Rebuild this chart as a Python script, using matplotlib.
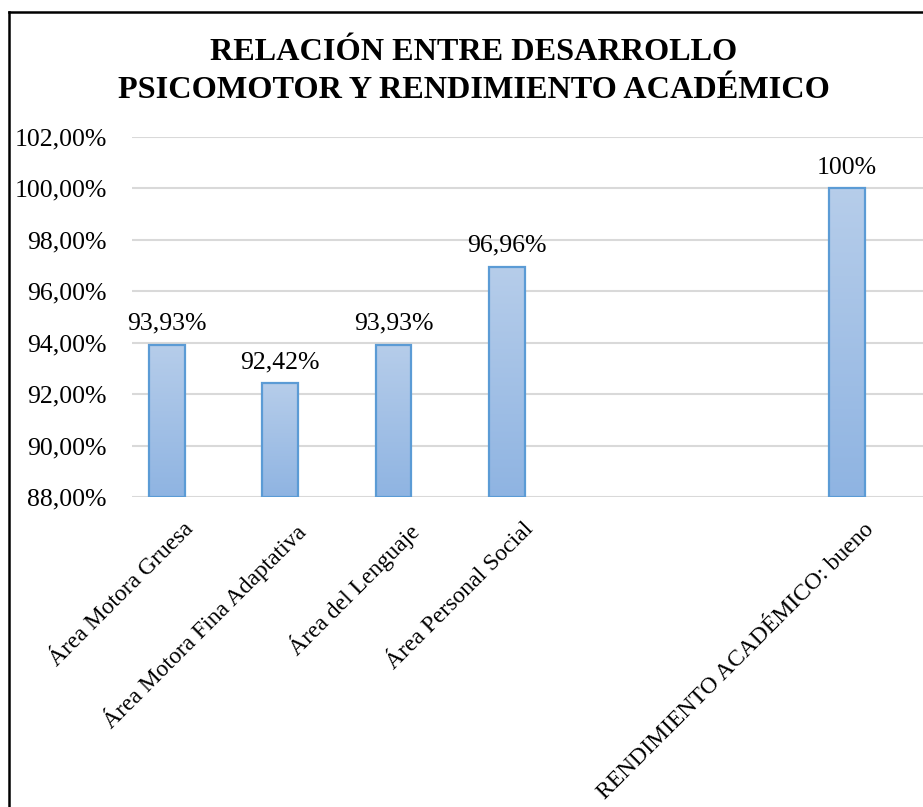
import numpy as np
import matplotlib
matplotlib.use("Agg")
import matplotlib.pyplot as plt
import matplotlib.transforms as mtransforms
from matplotlib.colors import LinearSegmentedColormap
from matplotlib.lines import Line2D

plt.rcParams['font.family'] = ['Liberation Serif', 'DejaVu Serif']

# data (two empty slots between the areas and the result)
categories = ["Área Motora Gruesa", "Área Motora Fina Adaptativa", "Área del Lenguaje",
              "Área Personal Social", "", "", "RENDIMIENTO ACADÉMICO: bueno"]
values = [93.93, 92.42, 93.93, 96.96, np.nan, np.nan, 100.0]
value_labels = ["93,93%", "92,42%", "93,93%", "96,96%", "", "", "100%"]
yticks = [88, 90, 92, 94, 96, 98, 100, 102]
ytick_labels = ["88,00%", "90,00%", "92,00%", "94,00%", "96,00%", "98,00%", "100,00%", "102,00%"]

title = "RELACIÓN ENTRE DESARROLLO\nPSICOMOTOR Y RENDIMIENTO ACADÉMICO"

W, H = 923, 807
fig = plt.figure(figsize=(W / 100, H / 100), dpi=100)
ax = fig.add_axes([132 / W, 1 - 497 / H, 1 - 132 / W, (497 - 137) / H])

x = np.arange(len(categories))
bar_w = 0.315
ymin, ymax = 88, 102

grad = LinearSegmentedColormap.from_list("g", ["#8fb4e2", "#b6cdea"])
bars = ax.bar(x, np.array(values) - ymin, bottom=ymin, width=bar_w,
              facecolor="none", edgecolor="#5b9bd5", linewidth=1.6, zorder=3)
for b in bars:
    h = b.get_height()
    if np.isnan(h):
        continue
    x0 = b.get_x()
    img = ax.imshow(np.linspace(0, 1, 100).reshape(-1, 1), cmap=grad, origin="lower",
                    extent=[x0, x0 + b.get_width(), ymin, ymin + h],
                    aspect="auto", zorder=2, interpolation="bilinear")
    img.set_clip_path(b)

for xi, v, lab in zip(x, values, value_labels):
    if np.isnan(v):
        continue
    ax.annotate(lab, (xi, v), xytext=(0, 7), textcoords="offset points",
                ha="center", va="bottom", fontsize=18.5, color="#000000")

ax.set_xlim(-0.309, 6.672)
ax.set_ylim(ymin, ymax)
ax.set_yticks(yticks)
ax.set_yticklabels(ytick_labels, fontsize=18.5)
ax.tick_params(axis="y", length=0, pad=18)
ax.set_xticks([])
ax.grid(axis="y", color="#d9d9d9", linewidth=1.5, zorder=0)
ax.set_axisbelow(True)
for s in ax.spines.values():
    s.set_visible(False)

# rotated category labels
trans = mtransforms.offset_copy(ax.get_xaxis_transform(), fig=fig, x=31, y=-22, units="dots")
for xi, cat in zip(x, categories):
    if not cat:
        continue
    ax.text(xi, 0, cat, transform=trans, rotation=45, ha="right", va="top",
            fontsize=17, clip_on=False)

fig.text(474 / W, 1 - 71.5 / H, title, ha="center", va="center", fontsize=23.2,
         fontweight="bold", linespacing=1.38)

# chart border (cut at right and bottom)
fig.add_artist(Line2D([9 / W, 1.01], [1 - 12 / H, 1 - 12 / H], transform=fig.transFigure,
                      color="black", linewidth=1.8))
fig.add_artist(Line2D([9 / W, 9 / W], [1 - 12 / H, -0.01], transform=fig.transFigure,
                      color="black", linewidth=1.8))

fig.savefig("out.png", dpi=100)
